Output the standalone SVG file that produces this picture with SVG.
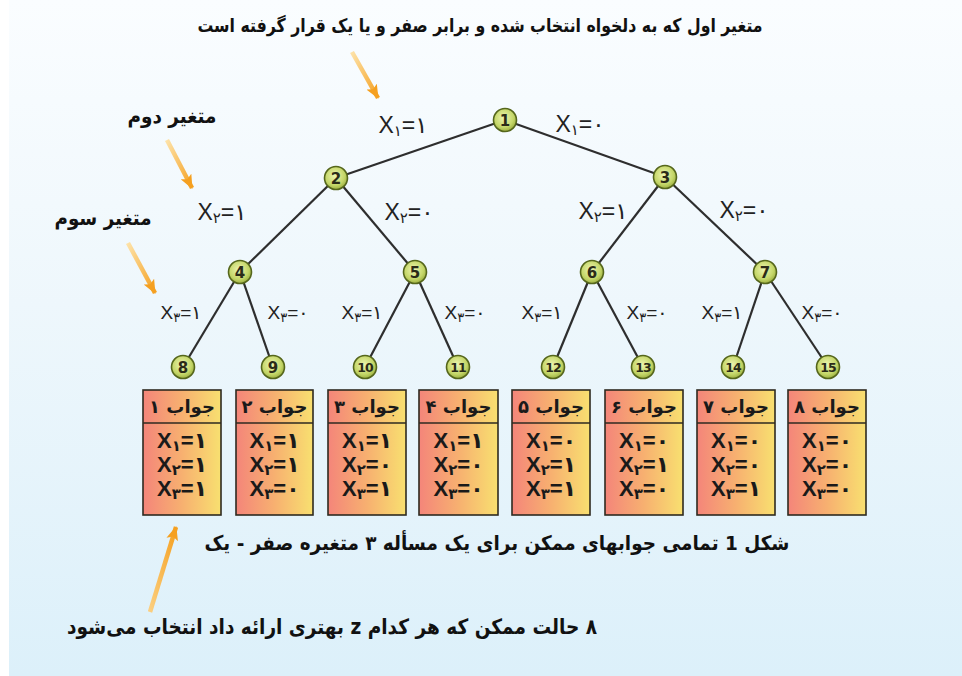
<svg xmlns="http://www.w3.org/2000/svg" width="962" height="676" viewBox="0 0 962 676">
<defs>
<linearGradient id="bg" x1="0" y1="0" x2="0" y2="1">
<stop offset="0" stop-color="#fafdff"/>
<stop offset="0.45" stop-color="#eef7fc"/>
<stop offset="1" stop-color="#dcf0fa"/>
</linearGradient>
<linearGradient id="boxg" x1="0" y1="0" x2="1" y2="0">
<stop offset="0" stop-color="#f4857a"/>
<stop offset="0.5" stop-color="#f7b070"/>
<stop offset="1" stop-color="#f8e070"/>
</linearGradient>
<radialGradient id="nodeg" cx="0.45" cy="0.4" r="0.6">
<stop offset="0" stop-color="#eef5b0"/>
<stop offset="0.7" stop-color="#c4d668"/>
<stop offset="1" stop-color="#9db040"/>
</radialGradient>
<linearGradient id="arrDown" x1="0" y1="0" x2="1" y2="1">
<stop offset="0" stop-color="#fde2a8"/>
<stop offset="1" stop-color="#f5a020"/>
</linearGradient>
<linearGradient id="arrUp" x1="0" y1="1" x2="1" y2="0">
<stop offset="0" stop-color="#fbcf80"/>
<stop offset="1" stop-color="#f5a020"/>
</linearGradient>
<marker id="head" markerUnits="userSpaceOnUse" markerWidth="16" markerHeight="12" refX="13" refY="6" orient="auto">
<path d="M0,0 L14,6 L0,12 L3,6 z" fill="#f5a020"/>
</marker>
<style>
.edge{stroke:#2e2e2e;stroke-width:2.2;fill:none}
.node circle{fill:url(#nodeg);stroke:#55661c;stroke-width:1.6}
.node text{font-family:"DejaVu Sans",sans-serif;font-weight:bold;font-size:15px;fill:#2b2b18;text-anchor:middle}
.node text.dd{font-size:12.5px;letter-spacing:-1px}
.lbl{font-family:"Liberation Sans","DejaVu Sans",sans-serif;font-size:23px;fill:#222;text-anchor:middle}
.lbl3{font-family:"Liberation Sans","DejaVu Sans",sans-serif;font-size:19px;fill:#222;text-anchor:middle}
.fa{font-family:"DejaVu Sans",sans-serif;font-weight:bold;fill:#111;text-anchor:middle}
.box rect{fill:url(#boxg);stroke:#2e2a20;stroke-width:1.6}
.box line{stroke:#2e2a20;stroke-width:1.6}
.bh{font-family:"DejaVu Sans",sans-serif;font-weight:bold;font-size:18px;fill:#1a1a1a;text-anchor:middle}
.br{font-family:"Liberation Sans","DejaVu Sans",sans-serif;font-weight:bold;font-size:22px;fill:#1a1a1a;text-anchor:middle}
.arr{stroke-width:4.5;fill:none;stroke-linecap:butt}
</style>
</defs>
<rect x="0" y="0" width="962" height="676" fill="#ffffff"/>
<rect x="9" y="0" width="953" height="676" fill="url(#bg)"/>

<g id="texts">
<text class="fa" transform="translate(480,32) scale(0.83,1)" x="0" y="0" font-size="19" direction="rtl">متغیر اول که به دلخواه انتخاب شده و برابر صفر و یا یک قرار گرفته است</text>
<text class="fa" x="172" y="123" font-size="20" direction="rtl" textLength="89" lengthAdjust="spacingAndGlyphs">متغیر دوم</text>
<text class="fa" x="103" y="225" font-size="20" direction="rtl" textLength="97" lengthAdjust="spacingAndGlyphs">متغیر سوم</text>
<text class="fa" x="497" y="550" font-size="20" direction="rtl" textLength="585" lengthAdjust="spacingAndGlyphs">شکل   1   تمامی جوابهای ممکن برای یک مسأله ۳ متغیره صفر - یک</text>
<text class="fa" x="332" y="634" font-size="21" direction="rtl" textLength="530" lengthAdjust="spacingAndGlyphs">۸ حالت ممکن که هر کدام z بهتری ارائه داد انتخاب می‌شود</text>
</g>

<g id="arrows">
<line class="arr" x1="352" y1="52" x2="378" y2="98" stroke="url(#arrDown)" marker-end="url(#head)"/>
<line class="arr" x1="167" y1="140" x2="192" y2="188" stroke="url(#arrDown)" marker-end="url(#head)"/>
<line class="arr" x1="128" y1="243" x2="155" y2="293" stroke="url(#arrDown)" marker-end="url(#head)"/>
<line class="arr" x1="150" y1="612" x2="176" y2="527" stroke="url(#arrUp)" marker-end="url(#head)"/>
</g>

<g id="connectors">
<line class="edge" x1="505" y1="120" x2="336" y2="178"/>
<line class="edge" x1="505" y1="120" x2="665" y2="177"/>
<line class="edge" x1="336" y1="178" x2="240" y2="272"/>
<line class="edge" x1="336" y1="178" x2="415" y2="272"/>
<line class="edge" x1="665" y1="177" x2="592" y2="272"/>
<line class="edge" x1="665" y1="177" x2="765" y2="272"/>
<line class="edge" x1="240" y1="272" x2="183" y2="367"/>
<line class="edge" x1="240" y1="272" x2="273" y2="367"/>
<line class="edge" x1="415" y1="272" x2="365" y2="367"/>
<line class="edge" x1="415" y1="272" x2="458" y2="367"/>
<line class="edge" x1="592" y1="272" x2="553" y2="367"/>
<line class="edge" x1="592" y1="272" x2="643" y2="367"/>
<line class="edge" x1="765" y1="272" x2="733" y2="367"/>
<line class="edge" x1="765" y1="272" x2="828" y2="367"/>
</g>

<g id="edge-labels">
<text class="lbl" x="403" y="133">X<tspan font-size="15" dy="3">۱</tspan><tspan dy="-3">=۱</tspan></text>
<text class="lbl" x="580" y="132">X<tspan font-size="15" dy="3">۱</tspan><tspan dy="-3">=۰</tspan></text>
<text class="lbl" x="222" y="220">X<tspan font-size="15" dy="3">۲</tspan><tspan dy="-3">=۱</tspan></text>
<text class="lbl" x="409" y="220">X<tspan font-size="15" dy="3">۲</tspan><tspan dy="-3">=۰</tspan></text>
<text class="lbl" x="603" y="219">X<tspan font-size="15" dy="3">۲</tspan><tspan dy="-3">=۱</tspan></text>
<text class="lbl" x="744" y="218">X<tspan font-size="15" dy="3">۲</tspan><tspan dy="-3">=۰</tspan></text>
<text class="lbl3" x="181" y="319">X<tspan font-size="13" dy="3">۳</tspan><tspan dy="-3">=۱</tspan></text>
<text class="lbl3" x="288" y="319">X<tspan font-size="13" dy="3">۳</tspan><tspan dy="-3">=۰</tspan></text>
<text class="lbl3" x="362" y="319">X<tspan font-size="13" dy="3">۳</tspan><tspan dy="-3">=۱</tspan></text>
<text class="lbl3" x="465" y="319">X<tspan font-size="13" dy="3">۳</tspan><tspan dy="-3">=۰</tspan></text>
<text class="lbl3" x="542" y="319">X<tspan font-size="13" dy="3">۳</tspan><tspan dy="-3">=۱</tspan></text>
<text class="lbl3" x="647" y="319">X<tspan font-size="13" dy="3">۳</tspan><tspan dy="-3">=۰</tspan></text>
<text class="lbl3" x="722" y="319">X<tspan font-size="13" dy="3">۳</tspan><tspan dy="-3">=۱</tspan></text>
<text class="lbl3" x="822" y="319">X<tspan font-size="13" dy="3">۳</tspan><tspan dy="-3">=۰</tspan></text>
</g>

<g id="n1" class="node"><circle cx="505" cy="120" r="11.5"/><text x="505" y="125.5">1</text></g>
<g id="n2" class="node"><circle cx="336" cy="178" r="11.5"/><text x="336" y="183.5">2</text></g>
<g id="n3" class="node"><circle cx="665" cy="177" r="11.5"/><text x="665" y="182.5">3</text></g>
<g id="n4" class="node"><circle cx="240" cy="272" r="11.5"/><text x="240" y="277.5">4</text></g>
<g id="n5" class="node"><circle cx="415" cy="272" r="11.5"/><text x="415" y="277.5">5</text></g>
<g id="n6" class="node"><circle cx="592" cy="272" r="11.5"/><text x="592" y="277.5">6</text></g>
<g id="n7" class="node"><circle cx="765" cy="272" r="11.5"/><text x="765" y="277.5">7</text></g>
<g id="n8" class="node"><circle cx="183" cy="367" r="11.5"/><text x="183" y="372.5">8</text></g>
<g id="n9" class="node"><circle cx="273" cy="367" r="11.5"/><text x="273" y="372.5">9</text></g>
<g id="n10" class="node"><circle cx="365" cy="367" r="11.5"/><text class="dd" x="365" y="371.5">10</text></g>
<g id="n11" class="node"><circle cx="458" cy="367" r="11.5"/><text class="dd" x="458" y="371.5">11</text></g>
<g id="n12" class="node"><circle cx="553" cy="367" r="11.5"/><text class="dd" x="553" y="371.5">12</text></g>
<g id="n13" class="node"><circle cx="643" cy="367" r="11.5"/><text class="dd" x="643" y="371.5">13</text></g>
<g id="n14" class="node"><circle cx="733" cy="367" r="11.5"/><text class="dd" x="733" y="371.5">14</text></g>
<g id="n15" class="node"><circle cx="828" cy="367" r="11.5"/><text class="dd" x="828" y="371.5">15</text></g>

<g id="box1" class="box"><rect x="143" y="390" width="78" height="125"/><line x1="143" y1="423" x2="221" y2="423"/>
<text class="bh" x="182" y="413" direction="rtl">جواب ۱</text>
<text class="br" x="182" y="448">X<tspan font-size="15" dy="3">۱</tspan><tspan dy="-3">=۱</tspan></text>
<text class="br" x="182" y="472">X<tspan font-size="15" dy="3">۲</tspan><tspan dy="-3">=۱</tspan></text>
<text class="br" x="182" y="496">X<tspan font-size="15" dy="3">۳</tspan><tspan dy="-3">=۱</tspan></text></g>

<g id="box2" class="box"><rect x="236" y="390" width="77" height="125"/><line x1="236" y1="423" x2="313" y2="423"/>
<text class="bh" x="274.5" y="413" direction="rtl">جواب ۲</text>
<text class="br" x="274.5" y="448">X<tspan font-size="15" dy="3">۱</tspan><tspan dy="-3">=۱</tspan></text>
<text class="br" x="274.5" y="472">X<tspan font-size="15" dy="3">۲</tspan><tspan dy="-3">=۱</tspan></text>
<text class="br" x="274.5" y="496">X<tspan font-size="15" dy="3">۳</tspan><tspan dy="-3">=۰</tspan></text></g>

<g id="box3" class="box"><rect x="328" y="390" width="78" height="125"/><line x1="328" y1="423" x2="406" y2="423"/>
<text class="bh" x="367" y="413" direction="rtl">جواب ۳</text>
<text class="br" x="367" y="448">X<tspan font-size="15" dy="3">۱</tspan><tspan dy="-3">=۱</tspan></text>
<text class="br" x="367" y="472">X<tspan font-size="15" dy="3">۲</tspan><tspan dy="-3">=۰</tspan></text>
<text class="br" x="367" y="496">X<tspan font-size="15" dy="3">۳</tspan><tspan dy="-3">=۱</tspan></text></g>

<g id="box4" class="box"><rect x="419" y="390" width="79" height="125"/><line x1="419" y1="423" x2="498" y2="423"/>
<text class="bh" x="458.5" y="413" direction="rtl">جواب ۴</text>
<text class="br" x="458.5" y="448">X<tspan font-size="15" dy="3">۱</tspan><tspan dy="-3">=۱</tspan></text>
<text class="br" x="458.5" y="472">X<tspan font-size="15" dy="3">۲</tspan><tspan dy="-3">=۰</tspan></text>
<text class="br" x="458.5" y="496">X<tspan font-size="15" dy="3">۳</tspan><tspan dy="-3">=۰</tspan></text></g>

<g id="box5" class="box"><rect x="512" y="390" width="78" height="125"/><line x1="512" y1="423" x2="590" y2="423"/>
<text class="bh" x="551" y="413" direction="rtl">جواب ۵</text>
<text class="br" x="551" y="448">X<tspan font-size="15" dy="3">۱</tspan><tspan dy="-3">=۰</tspan></text>
<text class="br" x="551" y="472">X<tspan font-size="15" dy="3">۲</tspan><tspan dy="-3">=۱</tspan></text>
<text class="br" x="551" y="496">X<tspan font-size="15" dy="3">۳</tspan><tspan dy="-3">=۱</tspan></text></g>

<g id="box6" class="box"><rect x="605" y="390" width="78" height="125"/><line x1="605" y1="423" x2="683" y2="423"/>
<text class="bh" x="644" y="413" direction="rtl">جواب ۶</text>
<text class="br" x="644" y="448">X<tspan font-size="15" dy="3">۱</tspan><tspan dy="-3">=۰</tspan></text>
<text class="br" x="644" y="472">X<tspan font-size="15" dy="3">۲</tspan><tspan dy="-3">=۱</tspan></text>
<text class="br" x="644" y="496">X<tspan font-size="15" dy="3">۳</tspan><tspan dy="-3">=۰</tspan></text></g>

<g id="box7" class="box"><rect x="697" y="390" width="78" height="125"/><line x1="697" y1="423" x2="775" y2="423"/>
<text class="bh" x="736" y="413" direction="rtl">جواب ۷</text>
<text class="br" x="736" y="448">X<tspan font-size="15" dy="3">۱</tspan><tspan dy="-3">=۰</tspan></text>
<text class="br" x="736" y="472">X<tspan font-size="15" dy="3">۲</tspan><tspan dy="-3">=۰</tspan></text>
<text class="br" x="736" y="496">X<tspan font-size="15" dy="3">۳</tspan><tspan dy="-3">=۱</tspan></text></g>

<g id="box8" class="box"><rect x="788" y="390" width="78" height="125"/><line x1="788" y1="423" x2="866" y2="423"/>
<text class="bh" x="827" y="413" direction="rtl">جواب ۸</text>
<text class="br" x="827" y="448">X<tspan font-size="15" dy="3">۱</tspan><tspan dy="-3">=۰</tspan></text>
<text class="br" x="827" y="472">X<tspan font-size="15" dy="3">۲</tspan><tspan dy="-3">=۰</tspan></text>
<text class="br" x="827" y="496">X<tspan font-size="15" dy="3">۳</tspan><tspan dy="-3">=۰</tspan></text></g>
</svg>
